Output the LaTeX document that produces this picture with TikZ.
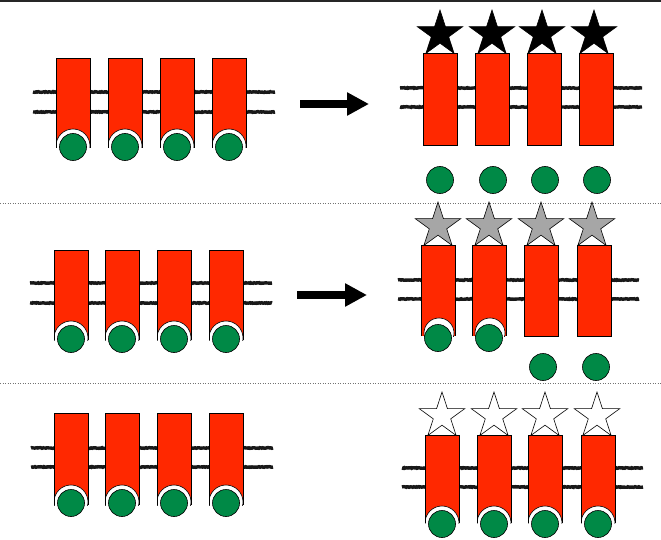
\documentclass[tikz,border=0pt]{standalone}
\usetikzlibrary{arrows.meta,shapes.geometric,decorations.pathmorphing}
\definecolor{rcpred}{RGB}{255,40,0}
\definecolor{lgdgreen}{RGB}{0,137,70}
\definecolor{stargray}{RGB}{166,166,166}

\begin{document}
\begin{tikzpicture}[x=1pt,y=-1pt,
    membrane/.style={line width=3.4pt,black!90,decorate,decoration={random steps,segment length=1pt,amplitude=0.35pt}},
    rcpfill/.style={fill=rcpred},
    outline/.style={draw=black,line width=0.6pt},
    ligand/.style={fill=lgdgreen,draw=black,line width=0.6pt},
    agonist/.style={star,star points=5,star point ratio=2.618,minimum size=48pt,inner sep=0pt,draw=black,line width=0.6pt},
    sepline/.style={black!55,line width=0.8pt,dash pattern=on 1pt off 1.5pt},
    bigarrow/.style={line width=8pt,-{Triangle[length=22pt,width=22pt]}}]
    \useasboundingbox (0,0) rectangle (661,540);
    \fill[black!85] (0,0) rectangle (661,2);
    \draw[sepline] (0,203) -- (661,203);
    \draw[sepline] (0,383) -- (661,383);
    % membranes
    \foreach \xa/\xb/\ya/\yb in {33/275/92/112, 400/642/88/107, 30/272/283/303,
        398/639/280/299, 31/273/448/467, 402/643/468/487}{
        \draw[membrane] (\xa,\ya) -- (\xb,\ya);
        \draw[membrane] (\xa,\yb) -- (\xb,\yb);
    }
    % receptors with ligand bound
    \foreach \cx/\ty/\by/\cy in {73/58/148/146, 125/58/148/146, 177/58/148/146, 229/58/148/146,
        71/250/340/338, 122/250/340/338, 174/250/340/338, 226/250/340/338,
        71/413/505/502, 122/413/505/502, 174/413/505/502, 226/413/505/502,
        442/435/523/523, 494/435/523/523, 545/435/523/523, 598/435/523/523}{
        \fill[rcpfill] (\cx-17,\ty) rectangle (\cx+17,\by);
        \fill[white] (\cx,\cy) circle (17);
        \begin{scope}
            \clip (\cx-17,\ty) rectangle (\cx+17,\by);
            \draw[outline] (\cx,\cy) circle (17);
        \end{scope}
        \draw[outline] (\cx-17,\by) -- (\cx-17,\ty) -- (\cx+17,\ty) -- (\cx+17,\by);
        \filldraw[ligand] (\cx,\cy+1) circle (13.5);
    }
    % receptors with ligand leaving
    \foreach \cx in {438,489}{
        \fill[rcpfill] (\cx-17,245) rectangle (\cx+17,336);
        \fill[white] (\cx+1,333) circle (15);
        \begin{scope}
            \clip (\cx-17,245) rectangle (\cx+17,336);
            \draw[outline] (\cx+1,333) circle (15);
        \end{scope}
        \draw[outline] (\cx-17,336) -- (\cx-17,245) -- (\cx+17,245) -- (\cx+17,336);
        \filldraw[ligand] (\cx,338) circle (13.5);
    }
    % empty receptors
    \foreach \cx/\ty/\by in {440/53/145, 492/53/145, 544/53/145, 596/53/145,
        541/245/336, 594/245/336}{
        \filldraw[rcpfill,outline] (\cx-17,\ty) rectangle (\cx+17,\by);
    }
    % free ligands
    \foreach \cx/\cy in {440/180, 493/180, 545/180, 597/180, 543/367, 596/367}{
        \filldraw[ligand] (\cx,\cy) circle (13.5);
    }
    % stars
    \foreach \cx [count=\i] in {440,492,542,594}{
        \node[agonist,fill=black] (full\i) at (\cx,34) {};
    }
    \foreach \cx [count=\i] in {438,489,541,592}{
        \node[agonist,fill=stargray] (part\i) at (\cx,226) {};
    }
    \foreach \cx [count=\i] in {442,494,545,597}{
        \node[agonist,fill=white] (anta\i) at (\cx,416) {};
    }
    % arrows
    \coordinate (arrAs) at (300,104);
    \coordinate (arrAe) at (369,104);
    \coordinate (arrBs) at (297,295);
    \coordinate (arrBe) at (367,295);
    \draw[bigarrow] (arrAs) -- (arrAe);
    \draw[bigarrow] (arrBs) -- (arrBe);
\end{tikzpicture}
\end{document}
